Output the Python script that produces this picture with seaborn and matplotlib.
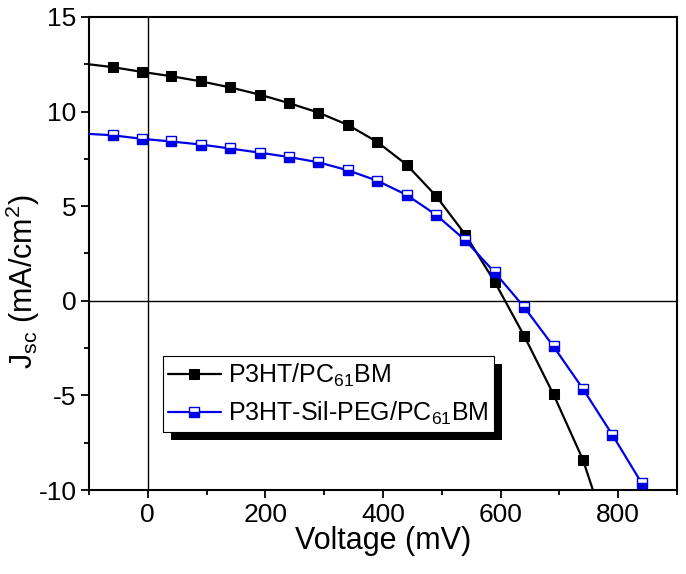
import matplotlib
matplotlib.use("Agg")
import matplotlib.pyplot as plt
import seaborn as sns
import pandas as pd
import numpy as np
from matplotlib.ticker import MultipleLocator
from matplotlib.patches import Rectangle

# ---- data ----
v_black = [-60, -10, 40, 90, 140, 190, 240, 290, 340, 390, 440, 490, 540, 590, 640, 690, 740]
j_black = [12.35, 12.1, 11.87, 11.6, 11.28, 10.9, 10.45, 9.95, 9.3, 8.4, 7.2, 5.55, 3.5, 1.0, -1.85, -4.95, -8.4]
v_blue = [-60, -10, 40, 90, 140, 190, 240, 290, 340, 390, 440, 490, 540, 590, 640, 690, 740, 790, 840]
j_blue = [8.75, 8.56, 8.42, 8.26, 8.05, 7.83, 7.6, 7.32, 6.9, 6.35, 5.6, 4.55, 3.2, 1.5, -0.33, -2.41, -4.65, -7.08, -9.64]
# curve ends (where the fitted lines meet the frame)
black_start, black_end = (-100, 12.5), (757, -10.0)
blue_start, blue_end = (-100, 8.82), (848, -10.2)

label_black = r"P3HT/PC$_{\mathrm{61}}$BM"
label_blue = r"P3HT-Sil-PEG/PC$_{\mathrm{61}}$BM"

sns.set_style("white")
plt.rcParams["font.family"] = ["Liberation Sans", "DejaVu Sans"]
plt.rcParams["mathtext.fontset"] = "custom"
plt.rcParams["mathtext.rm"] = "Liberation Sans"
plt.rcParams["mathtext.it"] = "Liberation Sans"
plt.rcParams["mathtext.bf"] = "Liberation Sans:bold"
plt.rcParams["axes.unicode_minus"] = False
plt.rcParams["text.color"] = "black"
plt.rcParams["axes.labelcolor"] = "black"

fig = plt.figure(figsize=(6.86, 5.74), dpi=100)
ax = fig.add_axes([89/686, 1-490/574, (677-89)/686, (490-17)/574])

dfb = pd.DataFrame({"V": [black_start[0]] + v_black + [black_end[0]],
                    "J": [black_start[1]] + j_black + [black_end[1]]})
dfu = pd.DataFrame({"V": [blue_start[0]] + v_blue + [blue_end[0]],
                    "J": [blue_start[1]] + j_blue + [blue_end[1]]})

sns.lineplot(data=dfb, x="V", y="J", ax=ax, color="black", lw=1.6,
             marker="s", markersize=7.5, markevery=list(range(1, len(v_black) + 1)),
             markeredgecolor="black", markerfacecolor="black", label=label_black,
             clip_on=True, zorder=3)
sns.lineplot(data=dfu, x="V", y="J", ax=ax, color="#0000e6", lw=1.6,
             marker="s", markersize=7, markevery=list(range(1, len(v_blue) + 1)),
             markeredgecolor="#0000e6", markerfacecolor="#0000e6", fillstyle="bottom",
             markerfacecoloralt="white", markeredgewidth=1.0, label=label_blue,
             clip_on=True, zorder=3)

ax.axvline(0, color="black", lw=1.0, zorder=2)
ax.axhline(0, color="black", lw=1.0, zorder=2)

ax.set_xlim(-100, 900)
ax.set_ylim(-10, 15)
ax.xaxis.set_major_locator(MultipleLocator(200))
ax.xaxis.set_minor_locator(MultipleLocator(100))
ax.yaxis.set_major_locator(MultipleLocator(5))
ax.yaxis.set_minor_locator(MultipleLocator(2.5))
ax.tick_params(which="both", direction="out", bottom=True, left=True, top=False, right=False,
               width=1.3, color="black", labelsize=19, labelcolor="black", pad=3)
ax.tick_params(which="major", length=6)
ax.tick_params(which="minor", length=3.5)
for s in ax.spines.values():
    s.set_color("black")
    s.set_linewidth(1.5)

ax.set_xlabel("Voltage (mV)", fontsize=22, labelpad=0, color="black")
ax.set_ylabel(r"J$_{\mathrm{sc}}$ (mA/cm$^{\mathrm{2}}$)", fontsize=22, color="black")
ax.yaxis.set_label_coords(-0.08, 0.44)

leg = ax.legend(loc="upper left", bbox_to_anchor=(0.125, 0.283), borderaxespad=0,
                fontsize=18, frameon=True, fancybox=False, framealpha=1,
                edgecolor="black", handlelength=2.1, handletextpad=0.3,
                borderpad=0.22, labelspacing=0.42)
leg.get_frame().set_linewidth(0.8)
leg.set_zorder(6)
for t in leg.get_texts():
    t.set_color("black")

fig.canvas.draw()
bb = leg.get_window_extent().transformed(ax.transAxes.inverted())
dx = 8 / ax.bbox.width
dy = 8 / ax.bbox.height
shadow = Rectangle((bb.x0 + dx, bb.y0 - dy), bb.width, bb.height, transform=ax.transAxes,
                   facecolor="black", edgecolor="none", zorder=5.5)
ax.add_patch(shadow)

fig.savefig("out.png", dpi=100)
